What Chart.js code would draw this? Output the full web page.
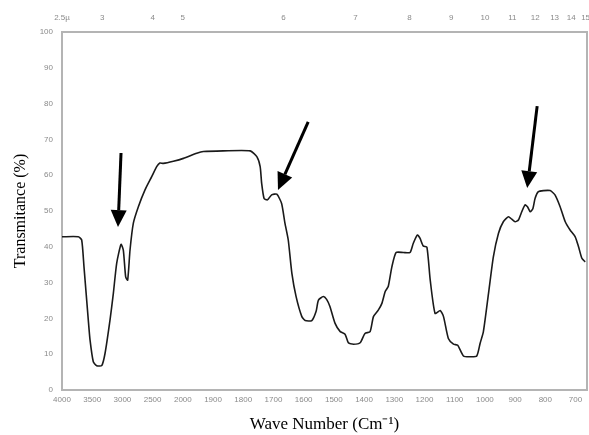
<!DOCTYPE html>
<html>
<head>
<meta charset="utf-8">
<script src="https://cdn.jsdelivr.net/npm/chart.js@4/dist/chart.umd.min.js"></script>
<style>
  html, body { margin: 0; padding: 0; background: #fff; }
  #wrap { width: 589px; height: 435px; }
</style>
</head>
<body>
<div id="wrap"><canvas id="ir_chart"></canvas></div>
<script>
// IR spectrum (wavenumber in cm-1, transmittance in %)
const wave_numbers = [
    4000, 3730, 3674, 3636, 3565, 3536, 3482, 3426, 3343, 3288, 3205, 3150, 3095, 3023, 2985, 2946,
    2913, 2874, 2819, 2736, 2626, 2515, 2433, 2380, 2323, 2157, 1998, 1954, 1932, 1866, 1777, 1755,
    1744, 1739, 1731, 1720, 1706, 1689, 1673, 1662, 1651, 1639, 1625, 1606, 1595, 1573, 1559, 1551,
    1535, 1524, 1513, 1496, 1479, 1463, 1452, 1435, 1413, 1397, 1380, 1369, 1353, 1341, 1330, 1320,
    1308, 1294, 1270, 1248, 1237, 1223, 1215, 1204, 1192, 1181, 1165, 1148, 1137, 1121, 1104, 1090,
    1071, 1049, 1027, 1016, 1005, 988, 972, 955, 939, 922, 911, 900, 889, 878, 867, 859,
    850, 841, 834, 823, 806, 784, 768, 751, 734, 718, 701, 690, 679, 668
];
const transmittance = [
    42.8, 42.8, 41.9, 34.4, 19.6, 14.0, 7.9, 6.8, 6.8, 10.2, 19.6, 27.0, 35.4, 40.7, 39.1, 31.6,
    30.7, 39.1, 46.6, 51.2, 55.9, 59.6, 62.4, 63.4, 63.3, 63.9, 64.7, 66.1, 66.6, 66.8, 66.8, 65.2,
    62.4, 57.7, 53.5, 53.1, 54.5, 54.7, 52.1, 46.6, 41.9, 32.6, 26.1, 20.5, 19.4, 19.4, 21.9, 25.1,
    26.1, 25.3, 23.3, 18.6, 16.3, 15.6, 13.2, 12.8, 13.2, 15.8, 16.3, 20.5, 22.3, 24.2, 27.5, 28.9,
    34.4, 38.4, 38.4, 38.4, 41.0, 43.3, 42.4, 40.2, 39.9, 30.7, 21.4, 22.2, 20.5, 14.4, 12.8, 12.5,
    9.5, 9.3, 9.5, 13.0, 16.3, 27.0, 37.2, 43.8, 47.0, 48.4, 47.7, 47.0, 47.5, 49.8, 51.7, 51.2,
    49.8, 50.7, 53.5, 55.4, 55.7, 55.7, 54.5, 51.2, 47.0, 44.7, 42.8, 40.0, 36.8, 35.8
];

// tick labels
const wave_ticks = [4000, 3500, 3000, 2500, 2000, 1900, 1800, 1700, 1600, 1500, 1400, 1300, 1200, 1100, 1000, 900, 800, 700];
const micron_ticks = [2.5, 3, 4, 5, 6, 7, 8, 9, 10, 11, 12, 13, 14, 15];
const micron_labels = ['2.5\u00b5', '3', '4', '5', '6', '7', '8', '9', '10', '11', '12', '13', '14', '15'];
const transmittance_ticks = [0, 10, 20, 30, 40, 50, 60, 70, 80, 90, 100];

// arrows [tail wavenumber, tail %, tip wavenumber, tip %]
const arrows = [
    [3023, 66.2, 3073, 45.5],
    [1585, 74.9, 1685, 55.9],
    [827, 79.3, 860, 56.4]
];

// the instrument changes its scale at 2000 cm-1: 500 per division above, 100 per division below
function waveToPos(w){
    if (w >= 2000) return (4000 - w) / 500;
    return 4 + (2000 - w) / 100;
}

const spectrum = wave_numbers.map((w, i) => ({x: waveToPos(w), y: transmittance[i]}));

const tick_font = {family: "'Liberation Sans', Arial, sans-serif", size: 8};
const tick_color = '#8a8a8a';
const frame = {display: true, color: '#b4b4b4', width: 2};

function noPadding(scale){
    // labels at the ends may hang over, like in the scanned chart
    scale.paddingLeft = 0;
    scale.paddingRight = 0;
    scale.paddingTop = 0;
    scale.paddingBottom = 0;
}

const arrowPlugin = {
    id: 'arrows',
    afterDatasetsDraw(chart){
        const ctx = chart.ctx;
        const xs = chart.scales.x, ys = chart.scales.y;
        ctx.save();
        ctx.fillStyle = '#000';
        ctx.strokeStyle = '#000';
        ctx.lineWidth = 3;
        for (const a of arrows){
            const x0 = xs.getPixelForValue(waveToPos(a[0])), y0 = ys.getPixelForValue(a[1]);
            const x1 = xs.getPixelForValue(waveToPos(a[2])), y1 = ys.getPixelForValue(a[3]);
            const ang = Math.atan2(y1 - y0, x1 - x0);
            const headLen = 17, headHalf = 8;
            const bx = x1 - headLen * Math.cos(ang), by = y1 - headLen * Math.sin(ang);
            ctx.beginPath();
            ctx.moveTo(x0, y0);
            ctx.lineTo(bx, by);
            ctx.stroke();
            ctx.beginPath();
            ctx.moveTo(x1, y1);
            ctx.lineTo(bx + headHalf * Math.sin(ang), by - headHalf * Math.cos(ang));
            ctx.lineTo(bx - headHalf * Math.sin(ang), by + headHalf * Math.cos(ang));
            ctx.closePath();
            ctx.fill();
        }
        ctx.restore();
    }
};

const config = {
    type: 'line',
    data: {
        datasets: [{
            label: 'Transmitance',
            data: spectrum,
            borderColor: '#1a1a1a',
            borderWidth: 1.6,
            pointRadius: 0,
            tension: 0.2,
            fill: false
        }]
    },
    options: {
        responsive: true,
        maintainAspectRatio: false,
        animation: false,
        layout: {padding: 0},
        scales: {
            x: {
                type: 'linear', position: 'bottom',
                min: 0, max: 17.38,
                afterBuildTicks: function (scale){
                    scale.ticks = wave_ticks.map(w => ({value: waveToPos(w)}));
                },
                afterFit: function (scale){ scale.height = 45; noPadding(scale); },
                ticks: {
                    autoSkip: false, maxRotation: 0, padding: 5,
                    color: tick_color, font: tick_font,
                    callback: function (value, index){ return wave_ticks[index]; }
                },
                grid: {display: false, drawTicks: false},
                border: frame,
                title: {
                    display: true, text: 'Wave Number (Cm\u207b\u00b9)', color: '#000',
                    font: {family: "'Liberation Serif', 'Times New Roman', serif", size: 17},
                    padding: {top: 0, bottom: 0}
                }
            },
            x2: {
                type: 'linear', position: 'top',
                min: 0, max: 17.38,
                afterBuildTicks: function (scale){
                    scale.ticks = micron_ticks.map(m => ({value: waveToPos(10000 / m)}));
                },
                afterFit: function (scale){ scale.height = 32; noPadding(scale); },
                ticks: {
                    autoSkip: false, maxRotation: 0, padding: 9,
                    color: tick_color, font: tick_font,
                    callback: function (value, index){ return micron_labels[index]; }
                },
                grid: {display: false, drawTicks: false},
                border: frame
            },
            y: {
                type: 'linear', position: 'left',
                min: 0, max: 100,
                afterBuildTicks: function (scale){
                    scale.ticks = transmittance_ticks.map(v => ({value: v}));
                },
                afterFit: function (scale){ scale.width = 62; noPadding(scale); },
                ticks: {padding: 9, color: tick_color, font: tick_font},
                grid: {display: false, drawTicks: false},
                border: frame,
                title: {
                    display: true, text: 'Transmitance (%)', color: '#000',
                    font: {family: "'Liberation Serif', 'Times New Roman', serif", size: 16},
                    padding: {top: 11, bottom: 0}
                }
            },
            y2: {
                type: 'linear', position: 'right',
                min: 0, max: 100,
                afterFit: function (scale){ scale.width = 2; noPadding(scale); },
                ticks: {display: false},
                grid: {display: false, drawTicks: false},
                border: frame
            }
        },
        plugins: {
            legend: {display: false},
            tooltip: {enabled: false}
        }
    },
    plugins: [arrowPlugin]
};

const irChart = new Chart(document.getElementById('ir_chart'), config);
</script>
</body>
</html>
